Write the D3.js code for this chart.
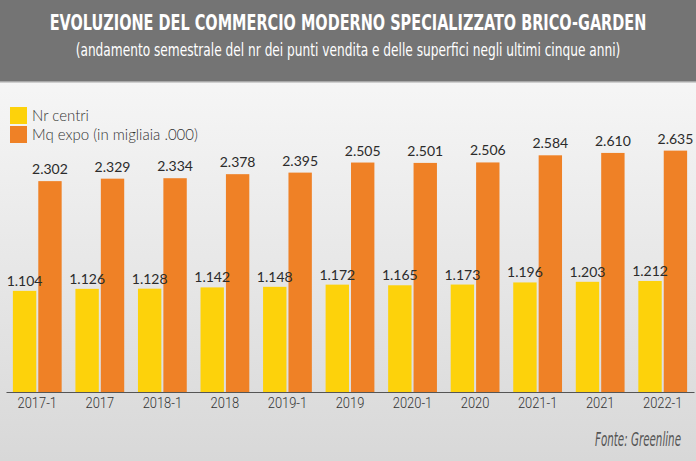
<!DOCTYPE html>
<html>
<head>
<meta charset="utf-8">
<script src="https://cdn.jsdelivr.net/npm/d3@7"></script>
<style>
html,body{margin:0;padding:0;background:#fff;}
svg{display:block;}
</style>
</head>
<body>
<svg id="chart" width="696" height="461"></svg>
<script>
const categories = ["2017-1","2017","2018-1","2018","2019-1","2019","2020-1","2020","2021-1","2021","2022-1"];
const nrCentri = [1104,1126,1128,1142,1148,1172,1165,1173,1196,1203,1212];
const mqExpo = [2302,2329,2334,2378,2395,2505,2501,2506,2584,2610,2635];
const seriesNames = ["Nr centri","Mq expo (in migliaia .000)"];
const seriesColors = ["#fdd20b","#ef8126"];
const titleText = "EVOLUZIONE DEL COMMERCIO MODERNO SPECIALIZZATO BRICO-GARDEN";
const subtitleText = "(andamento semestrale del nr dei punti vendita e delle superfici negli ultimi cinque anni)";
const sourceText = "Fonte: Greenline";

const W = 696, H = 461;
const svg = d3.select("#chart");
const defs = svg.append("defs");
const grad = defs.append("linearGradient").attr("id","bg").attr("x1",0).attr("y1",0).attr("x2",0).attr("y2",1);
grad.append("stop").attr("offset","0%").attr("stop-color","#fcfcfc");
grad.append("stop").attr("offset","100%").attr("stop-color","#d8d8d8");

svg.append("rect").attr("width",W).attr("height",H).attr("fill","url(#bg)");
svg.append("rect").attr("width",W).attr("height",81).attr("fill","#747474");
svg.append("rect").attr("y",81).attr("width",W).attr("height",1.5).attr("fill","#a8a8a8");

const condensed = "'DejaVu Sans Condensed','Liberation Sans Narrow',sans-serif";

// fit a text horizontally to a target width by a horizontal scale
function fitText(sel, cx, cy, targetW, anchor){
  const node = sel.node();
  const w = node.getComputedTextLength();
  const s = targetW / w;
  sel.attr("x",0).attr("y",0).attr("text-anchor",anchor)
     .attr("transform",`translate(${cx},${cy}) scale(${s},1)`);
}

const t1 = svg.append("text").attr("fill","#fff").attr("font-family",condensed).attr("font-weight","bold")
  .attr("font-size",21).text(titleText);
fitText(t1, W/2, 30, 597, "middle");
const t2 = svg.append("text").attr("fill","#fff").attr("font-family",condensed)
  .attr("font-size",18).text(subtitleText);
fitText(t2, W/2, 56, 545, "middle");

// scales
const x0 = d3.scaleBand().domain(categories).range([6,694]).paddingInner(0.22).paddingOuter(0.11);
const x1 = d3.scaleBand().domain([0,1]).range([0,x0.bandwidth()]).paddingInner(0.08);
const y = d3.scaleLinear().domain([0,2700]).range([392, 392-2700*0.0916]);

const data = categories.map((c,i)=>({cat:c, vals:[nrCentri[i], mqExpo[i]]}));

const g = svg.append("g");
const groups = g.selectAll("g.grp").data(data).join("g").attr("class","grp")
  .attr("transform",d=>`translate(${x0(d.cat)},0)`);

groups.selectAll("rect").data(d=>d.vals.map((v,k)=>({k,v}))).join("rect")
  .attr("x",d=>x1(d.k)).attr("width",x1.bandwidth())
  .attr("y",d=>y(d.v)).attr("height",d=>y(0)-y(d.v))
  .attr("fill",d=>seriesColors[d.k]);

const fmt = v => d3.format(",")(v).replace(/,/g,".");
groups.selectAll("text.val").data(d=>d.vals.map((v,k)=>({k,v}))).join("text")
  .attr("class","val")
  .attr("x",d=>x1(d.k)+x1.bandwidth()/2).attr("y",d=>y(d.v)-(d.k===0?5:7))
  .attr("text-anchor","middle").attr("fill","#2b2b2b")
  .attr("font-family","Lato, 'Noto Sans', sans-serif").attr("font-size",14)
  .text(d=>fmt(d.v));

// axis
const axis = svg.append("g").attr("transform","translate(0,392)")
  .call(d3.axisBottom(x0).tickSize(0).tickPadding(5));
axis.select(".domain").attr("stroke","#555").attr("stroke-width",1.2);
axis.selectAll("text").attr("font-family","Roboto, sans-serif").attr("font-weight",300)
  .attr("font-size",15).attr("fill","#333").attr("transform","scale(0.86,1)");

// legend
const leg = svg.append("g");
seriesNames.forEach((n,i)=>{
  leg.append("rect").attr("x",10).attr("y",107+i*19).attr("width",17).attr("height",17).attr("fill",seriesColors[i]);
  leg.append("text").attr("x",32).attr("y",121+i*19).attr("fill","#333")
    .attr("font-family","Lato, 'Noto Sans', sans-serif").attr("font-weight",300).attr("font-size",15).text(n);
});

const src = svg.append("text").attr("fill","#555").attr("font-family",condensed).attr("font-style","italic")
  .attr("font-size",19).text(sourceText);
fitText(src, 681, 446, 86, "end");
</script>
</body>
</html>
